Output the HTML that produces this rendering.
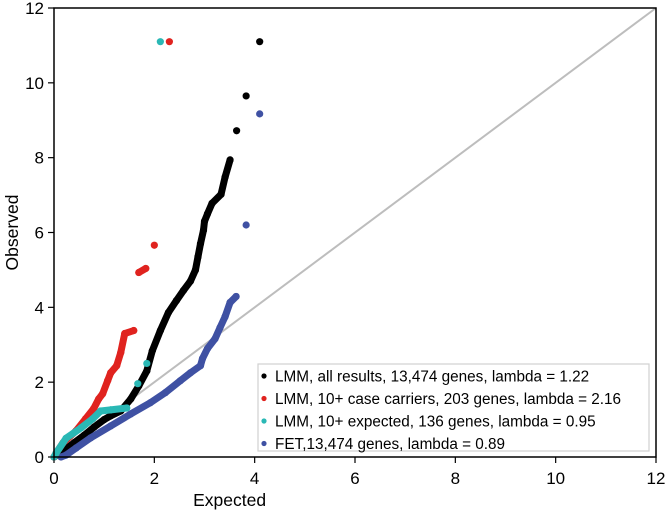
<!DOCTYPE html>
<html><head><meta charset="utf-8"><style>
body{margin:0;background:#fff;width:665px;height:515px;overflow:hidden}
svg{font-family:"Liberation Sans",sans-serif}
</style></head><body>
<svg id="chart" width="665" height="515"></svg>
<script>
const xTicks=[0,2,4,6,8,10,12];
const yTicks=[0,2,4,6,8,10,12];
const blackX=[0,0.2,0.4,0.6,0.8,1.0,1.13,1.33,1.53,1.69,1.85,1.96,2.12,2.28,2.44,2.58,2.72,2.82,2.87,2.92,2.98,3.0,3.06,3.15,3.33,3.41,3.51,3.64,3.83,4.1];
const blackY=[0,0.18,0.38,0.58,0.8,1.0,1.1,1.23,1.55,1.9,2.3,2.84,3.38,3.86,4.18,4.45,4.7,5.0,5.35,5.7,6.06,6.3,6.5,6.78,7.02,7.48,7.94,8.72,9.65,11.1];
const redX=[0,0.04,0.18,0.44,0.63,0.79,0.89,0.97,1.07,1.13,1.25,1.33,1.41,1.59,1.69,1.83,2.0,2.3];
const redY=[0,0.1,0.38,0.7,1.02,1.29,1.55,1.69,2.04,2.25,2.44,2.79,3.3,3.38,4.93,5.04,5.66,11.1];
const cyanX=[0,0.04,0.24,0.54,0.77,0.93,1.13,1.45,1.67,1.85,2.12];
const cyanY=[0,0.1,0.5,0.78,1.02,1.23,1.26,1.31,1.96,2.5,11.1];
const blueX=[0.14,0.24,0.44,0.73,1.13,1.53,1.92,2.22,2.52,2.72,2.92,2.96,3.06,3.21,3.31,3.41,3.51,3.63,3.83,4.1];
const blueY=[0,0.05,0.24,0.51,0.83,1.15,1.45,1.72,2.04,2.25,2.44,2.63,2.9,3.16,3.46,3.75,4.13,4.29,6.2,9.17];
const legendLabels=["LMM, all results, 13,474 genes, lambda = 1.22","LMM, 10+ case carriers, 203 genes, lambda = 2.16","LMM, 10+ expected, 136 genes, lambda = 0.95","FET,13,474 genes, lambda = 0.89"];

const X0=54,X1=656,Y0=457,Y1=8;
const sx=v=>X0+v/12*(X1-X0), sy=v=>Y0-v/12*(Y0-Y1);
const svg=document.getElementById('chart');
const NS='http://www.w3.org/2000/svg';
function mk(t,a,p){const e=document.createElementNS(NS,t);for(const k in a)e.setAttribute(k,a[k]);(p||svg).appendChild(e);return e;}

let diag=mk('line',{x1:sx(0),y1:sy(0),x2:sx(12),y2:sy(12),stroke:'#bdbdbd','stroke-width':2});



function series(xs,ys,col,name,gap){
  const g=mk('g',{});
  
  
  for(let i=1;i<xs.length;i++){
    if(Math.abs(ys[i]-ys[i-1])<gap){
      mk('line',{x1:sx(xs[i-1]),y1:sy(ys[i-1]),x2:sx(xs[i]),y2:sy(ys[i]),stroke:col,'stroke-width':7,'stroke-linecap':'round'},g);
    }
  }
  for(let i=0;i<xs.length;i++){
    const c=mk('circle',{cx:sx(xs[i]),cy:sy(ys[i]),r:3.6,fill:col},g);
    
    
  }
}
series(blackX,blackY,'#000000','lmm-all-series',0.75);
series(blueX,blueY,'#3f51a3','fet-series',0.6);
series(redX,redY,'#e0231f','lmm-case-carriers-series',0.6);
series(cyanX,cyanY,'#2ab8b5','lmm-expected-series',0.5);

let frame=mk('rect',{x:X0,y:Y1,width:X1-X0,height:Y0-Y1,fill:'none',stroke:'#000','stroke-width':1.5});



xTicks.forEach(t=>{
  mk('line',{x1:sx(t),y1:Y0,x2:sx(t),y2:Y0+6,stroke:'#000','stroke-width':1.2});
  const tx=mk('text',{x:sx(t),y:484,'text-anchor':'middle','font-size':17});
  tx.textContent=t;
  
  
});
yTicks.forEach(t=>{
  mk('line',{x1:X0-6,y1:sy(t),x2:X0,y2:sy(t),stroke:'#000','stroke-width':1.2});
  const tx=mk('text',{x:X0-10,y:sy(t)+6,'text-anchor':'end','font-size':17});
  tx.textContent=t;
  
  
});
let xl=mk('text',{x:sx(3.5),y:506,'text-anchor':'middle','font-size':17.5});
xl.textContent='Expected';


let yl=mk('text',{x:18,y:(Y0+Y1)/2,'text-anchor':'middle','font-size':17.5,transform:`rotate(-90 18 ${(Y0+Y1)/2})`});
yl.textContent='Observed';



const lg=mk('g',{});


mk('rect',{x:258,y:364,width:391,height:87,fill:'#fff',stroke:'#d0d0d0','stroke-width':1.2},lg);
const cols=['#000000','#e0231f','#2ab8b5','#3f51a3'];
legendLabels.forEach((s,i)=>{
  const y=376+i*22.5;
  const e=mk('g',{},lg);
  
  
  mk('circle',{cx:264,cy:y,r:2.6,fill:cols[i]},e);
  const t=mk('text',{x:275,y:y+5.5,'font-size':15.3},e);
  t.textContent=s;
});
</script>
</body></html>
